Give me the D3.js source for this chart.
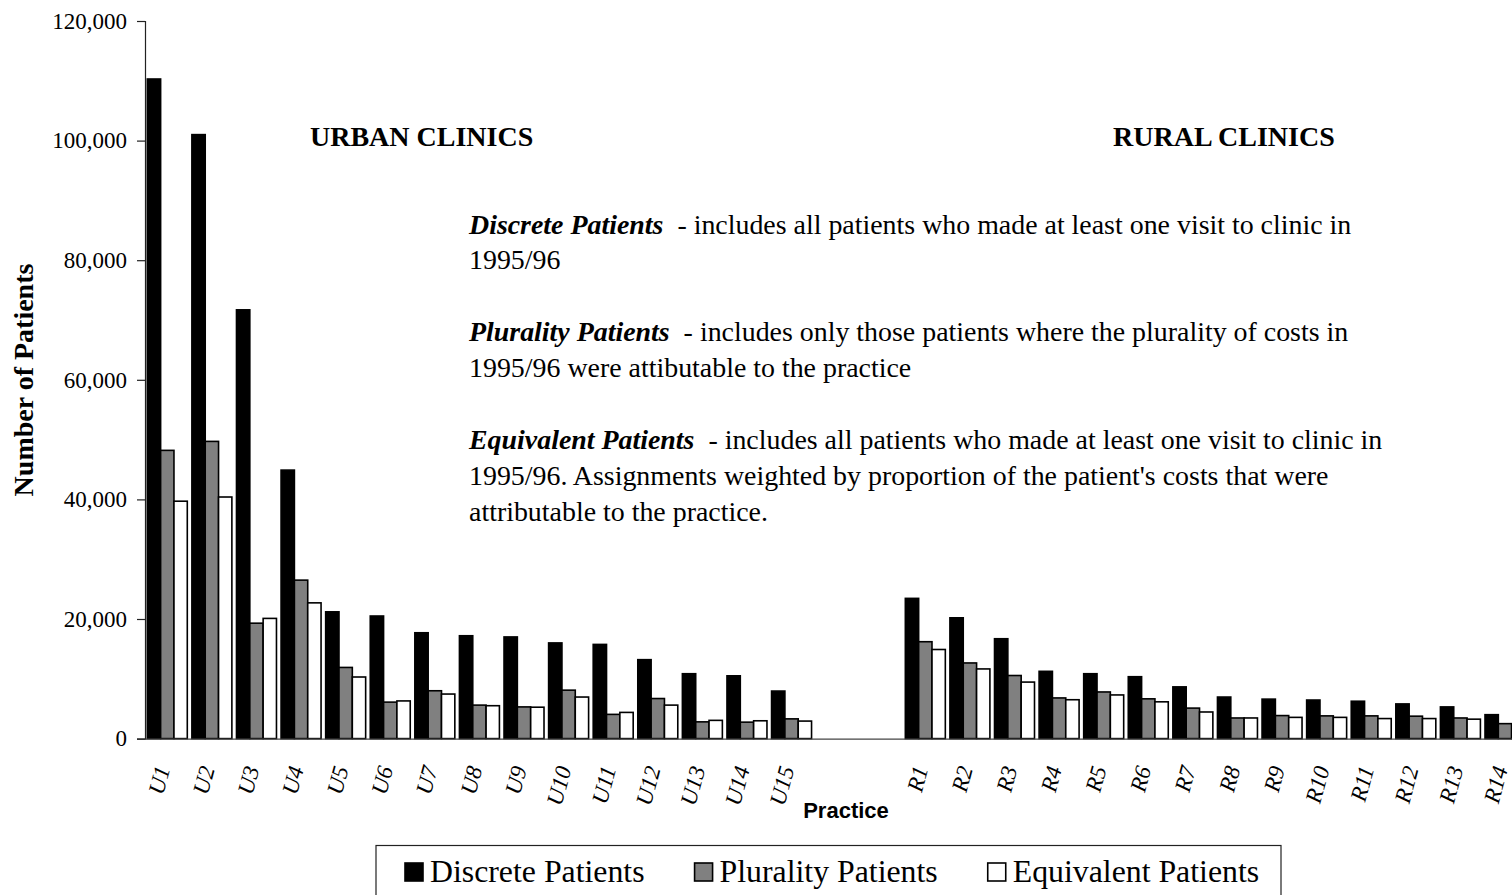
<!DOCTYPE html>
<html>
<head>
<meta charset="utf-8">
<script src="https://cdn.jsdelivr.net/npm/d3@7"></script>
<style>
  html, body { margin: 0; padding: 0; background: #fff; overflow: hidden; }
  svg { display: block; }
  text { white-space: pre; }
</style>
</head>
<body>
<svg id="chart" width="1512" height="895"></svg>
<script>
// ---------------- data ----------------
const urbanPractices = ["U1","U2","U3","U4","U5","U6","U7","U8","U9","U10","U11","U12","U13","U14","U15"];
const ruralPractices = ["R1","R2","R3","R4","R5","R6","R7","R8","R9","R10","R11","R12","R13","R14"];
const gapSlots = ["gap1","gap2"];
const seriesNames = ["Discrete Patients","Plurality Patients","Equivalent Patients"];
const seriesColors = ["#000000","#808080","#ffffff"];

const discreteUrban   = [110300,101000,71700,44900,21200,20500,17700,17200,17000,16000,15750,13200,10850,10500,7950];
const pluralityUrban  = [48200,49700,19300,26500,11900,6100,8000,5600,5300,8100,4050,6700,2800,2750,3300];
const equivalentUrban = [39700,40400,20100,22700,10300,6300,7450,5500,5250,6950,4380,5600,3050,2980,2930];

const discreteRural   = [23450,20200,16700,11250,10850,10350,8650,6950,6600,6450,6250,5800,5300,4000];
const pluralityRural  = [16200,12650,10550,6800,7800,6650,5100,3450,3850,3800,3800,3750,3450,2500];
const equivalentRural = [14900,11650,9450,6500,7300,6150,4450,3450,3550,3550,3350,3350,3250,2200];

const yTicks = [0,20000,40000,60000,80000,100000,120000];

const urbanHeader = "URBAN CLINICS";
const ruralHeader = "RURAL CLINICS";
const yTitle = "Number of Patients";
const xTitle = "Practice";

const notes = [
  [{t:"Discrete Patients", b:true}, {t:"  - includes all patients who made at least one visit to clinic in"}],
  [{t:"1995/96"}],
  null,
  [{t:"Plurality Patients", b:true}, {t:"  - includes only those patients where the plurality of costs in"}],
  [{t:"1995/96 were attibutable to the practice"}],
  null,
  [{t:"Equivalent Patients", b:true}, {t:"  - includes all patients who made at least one visit to clinic in"}],
  [{t:"1995/96. Assignments weighted by proportion of the patient's costs that were"}],
  [{t:"attributable to the practice."}]
];

// ---------------- build table ----------------
const categories = [...urbanPractices, ...gapSlots, ...ruralPractices];
const rows = [];
urbanPractices.forEach((p,i) => rows.push({cat:p, vals:[discreteUrban[i], pluralityUrban[i], equivalentUrban[i]]}));
ruralPractices.forEach((p,i) => rows.push({cat:p, vals:[discreteRural[i], pluralityRural[i], equivalentRural[i]]}));

// ---------------- layout ----------------
const serif = "'Liberation Serif','Times New Roman',Times,serif";
const sans = "'Liberation Sans',Arial,Helvetica,sans-serif";
const svg = d3.select("#chart");

const plotLeft = 145, plotTop = 21, plotBottom = 738.6;
const step = 44.59;
const plotRight = plotLeft + step * categories.length;

const x0 = d3.scaleBand().domain(categories).range([plotLeft, plotRight]).paddingInner(0).paddingOuter(0);
const groupGap = 2.3;
const x1 = d3.scaleBand().domain(seriesNames).range([groupGap, x0.bandwidth() - groupGap]).padding(0);
const y = d3.scaleLinear().domain([0, 120000]).range([plotBottom, plotTop]);

// bars
const g = svg.append("g");
const groups = g.selectAll("g.cat").data(rows).join("g")
  .attr("class","cat")
  .attr("transform", d => `translate(${x0(d.cat)},0)`);
groups.selectAll("rect").data(d => d.vals.map((v,i) => ({v, s:seriesNames[i], i}))).join("rect")
  .attr("x", d => x1(d.s))
  .attr("width", x1.bandwidth())
  .attr("y", d => y(d.v))
  .attr("height", d => y(0) - y(d.v))
  .attr("fill", d => seriesColors[d.i])
  .attr("stroke", "#000")
  .attr("stroke-width", 1.6);

// x axis
const xAxis = d3.axisBottom(x0).tickSize(0).tickFormat(d => gapSlots.includes(d) ? "" : d);
const gx = svg.append("g").attr("transform", `translate(0,${plotBottom})`).call(xAxis);
gx.select(".domain").attr("stroke", "#444").attr("stroke-width", 1.2);
gx.selectAll(".tick text")
  .attr("font-family", serif)
  .attr("font-style", "italic")
  .attr("font-size", 23)
  .attr("fill", "#000")
  .attr("text-anchor", "end")
  .attr("dy", null)
  .attr("y", null)
  .attr("transform", `translate(3,30) rotate(-75)`);

// y axis
const yAxis = d3.axisLeft(y).tickValues(yTicks).tickSize(8).tickPadding(10).tickFormat(d3.format(","));
const gy = svg.append("g").attr("transform", `translate(${plotLeft},0)`).call(yAxis);
gy.select(".domain").attr("stroke", "#222").attr("stroke-width", 1.2);
gy.selectAll(".tick line").attr("stroke", "#222").attr("stroke-width", 1.2);
gy.selectAll(".tick text").attr("font-family", serif).attr("font-size", 23).attr("fill", "#000");

// axis titles
svg.append("text")
  .attr("transform", `translate(33,380) rotate(-90)`)
  .attr("text-anchor", "middle")
  .attr("font-family", serif).attr("font-weight", "bold").attr("font-size", 28)
  .text(yTitle);
svg.append("text")
  .attr("x", 846).attr("y", 818)
  .attr("text-anchor", "middle")
  .attr("font-family", sans).attr("font-weight", "bold").attr("font-size", 22)
  .text(xTitle);

// headers
svg.append("text").attr("x", 310).attr("y", 146)
  .attr("font-family", serif).attr("font-weight", "bold").attr("font-size", 28)
  .text(urbanHeader);
svg.append("text").attr("x", 1113).attr("y", 146)
  .attr("font-family", serif).attr("font-weight", "bold").attr("font-size", 28)
  .text(ruralHeader);

// notes
const notesX = 469, notesY = 233.5, lineH = 35.9;
notes.forEach((line, i) => {
  if (!line) return;
  const t = svg.append("text").attr("x", notesX).attr("y", notesY + i * lineH)
    .attr("font-family", serif).attr("font-size", 27.9).attr("fill", "#000");
  line.forEach(seg => {
    const ts = t.append("tspan").text(seg.t);
    if (seg.b) ts.attr("font-weight", "bold").attr("font-style", "italic");
  });
});

// legend
const legG = svg.append("g");
legG.append("rect").attr("x", 376).attr("y", 845.5).attr("width", 905).attr("height", 70)
  .attr("fill", "#fff").attr("stroke", "#222").attr("stroke-width", 1.2);
let lx = 405;
const legBase = 882, sw = 18;
seriesNames.forEach((name, i) => {
  legG.append("rect").attr("x", lx).attr("y", legBase - sw - 1).attr("width", sw).attr("height", sw)
    .attr("fill", seriesColors[i]).attr("stroke", "#000").attr("stroke-width", 1.6);
  const t = legG.append("text").attr("x", lx + 25).attr("y", legBase)
    .attr("font-family", serif).attr("font-size", 31.8).text(name);
  lx = lx + 25 + t.node().getComputedTextLength() + 50;
});
</script>
</body>
</html>
